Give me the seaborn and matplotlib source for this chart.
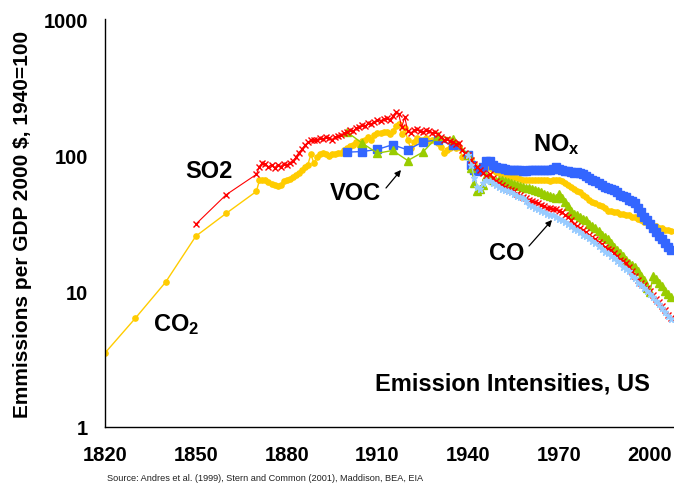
import matplotlib
matplotlib.use("Agg")
import matplotlib.pyplot as plt
from matplotlib.ticker import NullLocator, FixedLocator
import numpy as np
import pandas as pd
import seaborn as sns

# ---- data: emissions per unit of GDP (2000 $), index 1940 = 100 ----
co2_years = [1820, 1830, 1840, 1850, 1860] + list(range(1870, 2008))
co2_values = [
    3.5, 6.3, 11.6, 25.3, 37.2,
    54, 65, 66, 66, 63, 61, 60, 59, 60, 64,
    65, 67, 69, 71, 74, 78, 81, 85, 101, 87,
    97, 102, 103, 101, 99, 102, 101, 103, 104, 108,
    112, 116, 119, 124, 118, 126, 130, 136, 128, 140,
    144, 146, 148, 147, 143, 150, 163, 170, 142, 158,
    128, 112, 124, 134, 130, 128, 133, 126, 128, 130,
    122, 115, 104, 108, 112, 116, 112, 115, 96, 98,
    100, 93, 86, 80, 78, 79, 82, 80, 78, 75,
    74, 73, 72, 70, 69, 69, 68, 67, 66, 66,
    66, 65, 65, 65, 65, 65, 65, 64, 65, 66,
    66, 64, 62, 60, 58, 56, 54, 53, 51, 49,
    47, 45, 44, 43, 42, 41, 39, 39, 38, 38,
    37, 37, 36, 36, 35, 35, 34, 33, 32, 32,
    31, 30, 30, 29, 29, 28, 28, 27.5,
]

so2_years = [1850, 1860] + list(range(1870, 2008))
so2_values = [
    31, 51,
    72, 82, 88, 86, 82, 84, 80, 85, 82, 86,
    84, 88, 90, 96, 104, 110, 118, 124, 128, 130,
    128, 134, 131, 136, 133, 130, 136, 138, 140, 144,
    148, 152, 150, 158, 162, 166, 164, 172, 170, 176,
    180, 178, 184, 188, 182, 192, 206, 200, 160, 190,
    150, 145, 152, 155, 150, 148, 152, 150, 146, 148,
    142, 136, 130, 132, 126, 124, 120, 122, 108, 104,
    100, 92, 86, 82, 78, 74, 70, 72, 68, 64,
    62, 60, 58, 56, 55, 54, 52, 51, 49, 48,
    47, 46, 45, 44, 43, 42, 41, 41, 40, 40,
    39, 38, 36, 35, 33, 31, 30, 29, 28, 27,
    26, 25, 24, 23, 22, 21, 20.5, 20, 19, 18,
    17, 16.5, 16, 15, 14, 13, 12, 11.5, 11, 10.5,
    10, 9.3, 8.8, 8.3, 7.7, 7.2, 6.7, 6.3,
]

nox_years = [1900, 1905, 1910, 1915, 1920, 1925, 1930, 1935] + list(range(1940, 2008))
nox_values = [
    105, 106, 110, 119, 109, 125, 129, 118,
    100, 84, 78, 76, 78, 82, 91, 90, 84, 81,
    80, 80, 79, 78, 78, 77, 77, 77, 76, 76,
    77, 77, 77, 77, 77, 77, 78, 78, 79, 81,
    79, 77, 76, 76, 75, 74, 75, 74, 72, 70,
    68, 66, 64, 62, 60, 58, 57, 56, 55, 53,
    51, 50, 49, 47, 46, 44, 41, 38, 35, 33,
    31, 29, 27, 25.5, 24, 22.5, 21, 20,
]

voc_years = [1900, 1905, 1910, 1915, 1920, 1925, 1930, 1935] + list(range(1940, 2008))
voc_values = [
    147, 122, 103, 108, 91, 105, 138, 132,
    100, 80, 62, 54, 56, 60, 70, 68, 66, 64,
    66, 65, 64, 63, 62, 61, 60, 59, 58, 57,
    57, 56, 55, 54, 53, 52, 51, 50, 49, 48,
    52, 48, 45, 42, 39, 37, 36, 35, 34, 33,
    31, 30, 29, 27.5, 26, 25, 24, 22.5, 21, 20,
    19, 18, 17, 16, 15.5, 15, 14, 13, 12, 10.5,
    9.8, 12.8, 12.2, 11.5, 10.8, 10, 9.5, 9,
]

co_years = list(range(1940, 2008))
co_values = [
    100, 84, 68, 58, 56, 62, 66, 64, 62, 60,
    58, 56, 55, 54, 53, 52, 50, 49, 48, 46,
    43, 42, 41, 40, 39, 38, 37, 36.5, 36, 35,
    34, 33, 32, 31, 30, 28.5, 28, 27, 26, 25.5,
    24.5, 23.5, 22.5, 21.5, 20.5, 19.5, 19, 18, 17.5, 16.5,
    16, 15, 14.5, 14, 13, 12.5, 11.5, 11, 10.5, 10,
    9.5, 9, 8.5, 8, 7.5, 7, 6.6, 6.2,
]

x_ticks = [1820, 1850, 1880, 1910, 1940, 1970, 2000]
y_ticks = [1, 10, 100, 1000]
y_tick_labels = ["1", "10", "100", "1000"]

# ---- style ----
sns.set_theme(style="white")
plt.rcParams["font.family"] = ["Liberation Sans", "DejaVu Sans"]
plt.rcParams["mathtext.fontset"] = "custom"
plt.rcParams["mathtext.rm"] = "Liberation Sans"
plt.rcParams["mathtext.bf"] = "Liberation Sans:bold"

W, H = 674, 485
fig = plt.figure(figsize=(W / 100, H / 100), dpi=100)
ax = fig.add_axes([105 / W, 1 - 428 / H, (673 - 105) / W, (428 - 20) / H])

series = [
    (co2_years, co2_values, "#FFCC00", "o", 3.8, 1.0),
    (nox_years, nox_values, "#3366FF", "s", 5.2, 1.0),
    (voc_years, voc_values, "#99CC00", "^", 5.6, 1.0),
    (so2_years, so2_values, "#FF0000", "x", 4.8, 0.8),
    (co_years, co_values, "#99CCFF", "*", 5.0, 0.8),
]
for yrs, vals, col, mk, ms, lw in series:
    df = pd.DataFrame({"year": yrs, "value": vals})
    sns.lineplot(data=df, x="year", y="value", ax=ax, color=col, marker=mk,
                 markersize=ms, markeredgecolor=col, markerfacecolor=col,
                 markeredgewidth=1.0, linewidth=lw, estimator=None,
                 sort=False, legend=False, clip_on=True)

ax.set_yscale("log")
ax.set_ylim(1, 1000)
ax.set_xlim(1820, 2007.6)
ax.yaxis.set_major_locator(FixedLocator(y_ticks))
ax.yaxis.set_minor_locator(NullLocator())
ax.set_yticklabels(y_tick_labels)
ax.set_xticks(x_ticks)
ax.set_xticklabels([str(t) for t in x_ticks])

for side in ["top", "right"]:
    ax.spines[side].set_visible(False)
for side in ["left", "bottom"]:
    ax.spines[side].set_color("black")
    ax.spines[side].set_linewidth(1.0)

ax.tick_params(axis="both", which="major", direction="out", length=5,
               width=1, color="#444444", labelsize=14.5, labelcolor="black")
ax.tick_params(axis="y", pad=7)
ax.tick_params(axis="x", pad=8)
for lab in ax.get_xticklabels() + ax.get_yticklabels():
    lab.set_fontweight("bold")

ax.set_xlabel("")
ax.set_ylabel("")
fig.text(23 / W, 1 - 224 / H, "Emmissions per GDP 2000 $, 1940=100",
         rotation=90, ha="center", va="center", fontsize=15,
         fontweight="bold", color="black")


def fx(px):
    return px / W


def fy(py):
    return 1 - py / H


lab_kw = dict(ha="center", va="center", fontsize=17, fontweight="bold", color="black")
fig.text(fx(209), fy(172), "SO2", **lab_kw)
fig.text(fx(355), fy(194), "VOC", **lab_kw)
fig.text(fx(556), fy(145), r"$\mathbf{NO_x}$", **lab_kw)
fig.text(fx(507), fy(254), "CO", **lab_kw)
fig.text(fx(176), fy(325), r"$\mathbf{CO_2}$", **lab_kw)
fig.text(fx(512), fy(384), "Emission Intensities, US", **lab_kw)

# pointer arrows for the VOC and CO labels
arrow_kw = dict(arrowstyle="-|>", color="black", lw=0.9, mutation_scale=9,
                shrinkA=0, shrinkB=0)
ax.annotate("", xy=(fx(401), fy(171)), xytext=(fx(386), fy(189)),
            xycoords="figure fraction", textcoords="figure fraction",
            arrowprops=arrow_kw, annotation_clip=False)
ax.annotate("", xy=(fx(552), fy(221)), xytext=(fx(529), fy(247)),
            xycoords="figure fraction", textcoords="figure fraction",
            arrowprops=arrow_kw, annotation_clip=False)

fig.text(fx(107), fy(479),
         "Source: Andres et al. (1999), Stern and Common (2001), Maddison, BEA, EIA",
         ha="left", va="center", fontsize=6.6, color="#222222")

fig.savefig("out.png", dpi=100)
